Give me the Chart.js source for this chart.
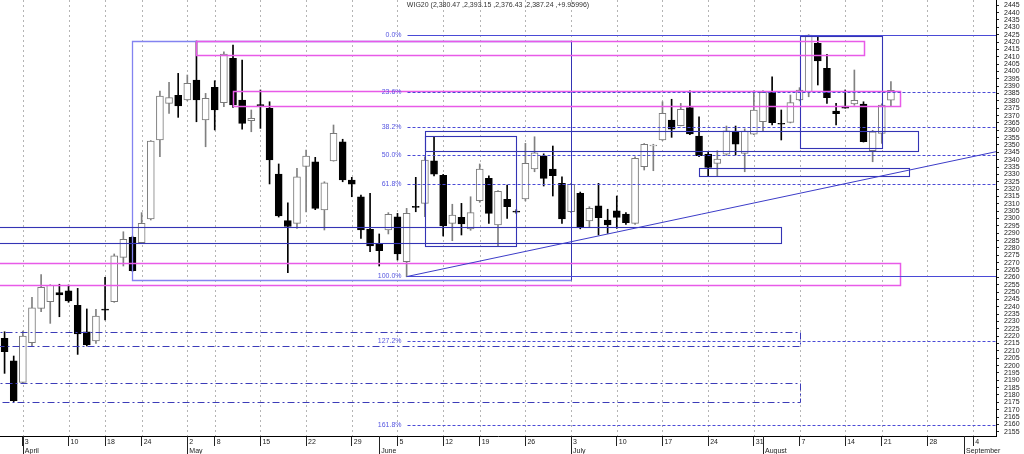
<!DOCTYPE html>
<html>
<head>
<meta charset="utf-8">
<title>WIG20</title>
<script src="https://cdn.jsdelivr.net/npm/chart.js@4.4.0/dist/chart.umd.min.js"></script>
<style>
  html, body { margin: 0; padding: 0; background: #ffffff; }
  #wrap { width: 1024px; height: 454px; }
</style>
</head>
<body>
<div id="wrap"><canvas id="wigChart" width="1024" height="454"></canvas></div>
<script>
// WIG20 daily candles, 30 Mar - 22 Aug 2006 (WSE sessions)
const firstDay = '2006-03-30';
const lastDay = '2006-09-06';
const closedDays = ['2006-04-14', '2006-04-17', '2006-05-01', '2006-05-03', '2006-06-15', '2006-08-15'];
const monthNames = ['January', 'February', 'March', 'April', 'May', 'June', 'July',
                    'August', 'September', 'October', 'November', 'December'];

const openVals = [
  2218.5, 2203.3, 2188.6, 2215.5, 2238.9, 2243.4, 2249.7, 2250.9, 2241.0, 2223.0,
  2216.7, 2238.4, 2243.4, 2273.6, 2287.2, 2283.5, 2299.7, 2353.4, 2378.3, 2383.8,
  2380.6, 2394.2, 2367.0, 2389.2, 2378.8, 2409.0, 2380.6, 2366.5, 2377.5, 2375.0,
  2330.3, 2298.6, 2296.7, 2335.4, 2338.6, 2305.8, 2339.1, 2352.2, 2326.2, 2314.8,
  2292.7, 2283.1, 2292.2, 2301.2, 2270.6, 2308.3, 2310.3, 2339.3, 2329.4, 2296.7,
  2300.8, 2292.9, 2312.1, 2327.3, 2295.6, 2313.1, 2305.0, 2313.3, 2333.7, 2342.7,
  2333.7, 2323.9, 2304.6, 2317.1, 2298.3, 2308.7, 2299.0, 2305.3, 2303.1, 2296.7,
  2335.2, 2349.3, 2353.4, 2367.0, 2363.1, 2375.4, 2356.1, 2343.9, 2337.5, 2343.7,
  2359.5, 2344.3, 2357.3, 2365.8, 2385.8, 2364.7, 2365.4, 2380.6, 2386.2, 2419.2,
  2402.1, 2373.1, 2376.5, 2377.9, 2377.9, 2346.1, 2357.9, 2380.47
];
const highVals = [
  2223.0, 2206.5, 2223.5, 2246.4, 2261.8, 2255.0, 2255.3, 2254.8, 2252.5, 2238.5,
  2238.3, 2260.0, 2275.9, 2291.0, 2288.0, 2304.0, 2353.0, 2386.7, 2392.6, 2398.7,
  2397.6, 2420.7, 2385.1, 2393.7, 2413.4, 2418.0, 2407.8, 2373.8, 2387.4, 2379.4,
  2337.1, 2310.7, 2334.1, 2346.6, 2341.6, 2325.0, 2363.6, 2353.9, 2328.0, 2316.0,
  2317.1, 2289.5, 2304.0, 2303.5, 2306.9, 2328.0, 2342.0, 2355.2, 2330.0, 2309.7,
  2310.3, 2314.8, 2337.1, 2329.0, 2319.0, 2322.8, 2306.0, 2351.1, 2355.6, 2344.0,
  2349.3, 2328.4, 2324.0, 2318.0, 2308.0, 2323.9, 2306.3, 2315.3, 2304.0, 2342.0,
  2351.0, 2350.5, 2379.4, 2381.1, 2378.3, 2386.9, 2369.2, 2345.0, 2346.1, 2362.9,
  2362.9, 2361.0, 2386.9, 2387.0, 2396.4, 2373.8, 2384.0, 2389.0, 2425.0, 2423.6,
  2411.7, 2378.3, 2387.4, 2401.0, 2379.4, 2360.0, 2378.0, 2393.15
];
const lowVals = [
  2194.7, 2175.5, 2188.0, 2213.3, 2236.6, 2228.7, 2233.2, 2243.0, 2207.6, 2213.3,
  2215.1, 2231.0, 2243.0, 2267.7, 2264.0, 2283.0, 2299.0, 2342.0, 2371.5, 2368.8,
  2380.0, 2365.8, 2348.8, 2360.2, 2376.0, 2375.6, 2360.7, 2359.0, 2361.3, 2323.5,
  2301.0, 2263.1, 2293.3, 2304.4, 2306.0, 2292.2, 2339.0, 2325.0, 2314.8, 2286.5,
  2277.4, 2267.7, 2289.5, 2271.8, 2260.4, 2304.6, 2301.2, 2329.0, 2288.1, 2284.9,
  2288.8, 2292.0, 2311.0, 2296.7, 2280.8, 2300.1, 2303.5, 2312.0, 2331.8, 2322.1,
  2315.3, 2296.7, 2304.0, 2293.0, 2294.4, 2288.8, 2289.9, 2293.3, 2296.0, 2296.0,
  2333.0, 2332.5, 2353.0, 2355.2, 2363.0, 2357.0, 2342.0, 2328.9, 2328.9, 2343.0,
  2343.2, 2331.8, 2357.0, 2359.0, 2363.6, 2353.4, 2365.0, 2380.0, 2382.8, 2390.8,
  2378.3, 2363.6, 2375.0, 2377.0, 2352.0, 2338.6, 2351.1, 2376.43
];
const closeVals = [
  2209.4, 2176.1, 2220.1, 2239.3, 2253.2, 2254.6, 2248.0, 2243.9, 2221.5, 2214.0,
  2233.7, 2237.6, 2274.7, 2285.9, 2264.5, 2296.7, 2352.7, 2383.3, 2382.2, 2376.5,
  2392.0, 2380.6, 2381.7, 2373.8, 2411.9, 2377.2, 2364.7, 2368.1, 2376.5, 2339.8,
  2301.7, 2294.6, 2328.4, 2342.5, 2306.9, 2324.3, 2357.9, 2326.2, 2323.3, 2292.2,
  2281.3, 2278.1, 2302.9, 2275.9, 2303.5, 2307.6, 2339.8, 2330.1, 2294.9, 2302.4,
  2296.3, 2304.0, 2333.7, 2303.5, 2318.5, 2308.0, 2304.3, 2337.5, 2344.7, 2327.3,
  2329.1, 2299.7, 2323.3, 2294.4, 2306.9, 2300.5, 2295.6, 2300.8, 2297.1, 2340.9,
  2350.5, 2350.0, 2371.5, 2360.7, 2374.3, 2357.5, 2342.7, 2334.8, 2340.5, 2359.7,
  2350.5, 2359.5, 2373.8, 2385.8, 2365.2, 2364.2, 2378.8, 2387.4, 2424.8, 2407.1,
  2382.2, 2371.3, 2375.1, 2380.4, 2352.2, 2359.0, 2377.2, 2387.24
];

// drawings on the chart, in [from date, to date, upper price, lower price]; null = beyond left edge
const fiboBox = ['2006-04-21', '2006-07-03', 2420.9, 2258.2];
const blueBoxes = [
  ['2006-06-08', '2006-06-23', 2356.0, 2281.3],
  ['2006-06-08', '2006-08-25', 2359.5, 2345.7],
  ['2006-08-07', '2006-08-21', 2424.3, 2347.8],
  ['2006-07-21', '2006-08-24', 2334.3, 2329.1],
  [null, '2006-08-03', 2294.4, 2283.1]
];
const pinkBoxes = [
  ['2006-05-04', '2006-08-17', 2420.9, 2411.2],
  ['2006-05-10', '2006-08-23', 2386.6, 2376.5],
  [null, '2006-08-23', 2269.6, 2254.8]
];
const dashBoxes = [
  [null, '2006-08-07', 2223.0, 2213.5],
  [null, '2006-08-07', 2187.9, 2175.0]
];
const fiboStart = '2006-06-06';
const fiboTop = 2425.0;
const fiboBottom = 2261.0;
const fiboLevels = [0, 23.6, 38.2, 50.0, 61.8, 100.0, 127.2, 161.8];
const trendFrom = ['2006-06-06', 2260.5];
const trendTo = ['2006-08-22', 2330.3];

const titleText = 'WIG20 (2,380.47 ,2,393.15 ,2,376.43 ,2,387.24 ,+9.95996)';
const yMin = 2152.1;
const yMax = 2448.6;

// session calendar for the x axis
function buildDays(start, end, skip) {
    const out = [];
    const d = new Date(start + 'T12:00:00Z');
    const stop = new Date(end + 'T12:00:00Z');
    while (d <= stop) {
        const iso = d.toISOString().slice(0, 10);
        const wd = d.getUTCDay();
        if (wd !== 0 && wd !== 6 && !skip.includes(iso)) out.push(iso);
        d.setUTCDate(d.getUTCDate() + 1);
    }
    return out;
}

const days = buildDays(firstDay, lastDay, closedDays);
const weekStart = days.map((d, i) => {
    if (i === 0) return false;
    const a = new Date(days[i - 1] + 'T12:00:00Z');
    const b = new Date(d + 'T12:00:00Z');
    return b.getUTCDay() < a.getUTCDay() || (b - a) >= 7 * 864e5;
});
const monthStart = days.map((d, i) => i > 0 && d.slice(5, 7) !== days[i - 1].slice(5, 7));
const tickLabels = days.map((d, i) => {
    const day = String(parseInt(d.slice(8, 10), 10));
    const month = monthNames[parseInt(d.slice(5, 7), 10) - 1];
    if (weekStart[i] && monthStart[i]) return [day, month];
    if (weekStart[i]) return day;
    if (monthStart[i]) return ['', month];
    return '';
});

const isUp = closeVals.map((c, i) => c >= openVals[i]);

const BLUE = '#3434b4';
const PINK = '#e85ae8';
const FIBO = '#4a4ad6';

// Custom drawings (grid, boxes, fibo, trend line) placed through the chart scales
const drawingsPlugin = {
    id: 'drawings',
    beforeDatasetsDraw(chart) {
        const {ctx, chartArea: area, scales: {x}} = chart;
        ctx.save();
        ctx.strokeStyle = '#b4b4b4';
        ctx.lineWidth = 1;
        ctx.setLineDash([2, 3]);
        weekStart.forEach((w, i) => {
            if (!w) return;
            const gx = Math.round(x.getPixelForValue(i)) + 0.5;
            ctx.beginPath();
            ctx.moveTo(gx, area.top);
            ctx.lineTo(gx, area.bottom);
            ctx.stroke();
        });
        ctx.restore();
    },
    afterDatasetsDraw(chart) {
        const {ctx, chartArea: area, scales: {x, y}} = chart;
        const px = d => d === null ? area.left - 10 : x.getPixelForValue(days.indexOf(d));
        const crisp = v => Math.round(v) + 0.5;

        const rect = (box, color, width, dash) => {
            const x1 = crisp(px(box[0])), x2 = crisp(px(box[1]));
            const y1 = crisp(y.getPixelForValue(box[2])), y2 = crisp(y.getPixelForValue(box[3]));
            ctx.strokeStyle = color;
            ctx.lineWidth = width;
            ctx.setLineDash(dash || []);
            ctx.strokeRect(x1, y1, x2 - x1, y2 - y1);
        };

        ctx.save();
        ctx.beginPath();
        ctx.rect(area.left, area.top, area.right - area.left, area.bottom - area.top);
        ctx.clip();

        // fibo retracement frame
        const fx1 = crisp(px(fiboBox[0])), fx2 = crisp(px(fiboBox[1]));
        const fy1 = crisp(y.getPixelForValue(fiboBox[2])), fy2 = crisp(y.getPixelForValue(fiboBox[3]));
        ctx.lineWidth = 1.3;
        ctx.strokeStyle = '#8383f0';
        ctx.beginPath();
        ctx.moveTo(fx2, fy1); ctx.lineTo(fx1, fy1); ctx.lineTo(fx1, fy2); ctx.lineTo(fx2, fy2);
        ctx.stroke();
        ctx.strokeStyle = BLUE;
        ctx.lineWidth = 1;
        ctx.beginPath();
        ctx.moveTo(fx2, fy1); ctx.lineTo(fx2, fy2);
        ctx.stroke();

        blueBoxes.forEach(b => rect(b, BLUE, 1.1));
        dashBoxes.forEach(b => rect(b, '#3c3cb8', 1, [7, 3, 2, 3]));
        pinkBoxes.forEach(b => rect(b, PINK, 1.5));

        // fibo levels
        const lx = crisp(px(fiboStart));
        ctx.font = '7px "Liberation Sans", Arial, sans-serif';
        ctx.textAlign = 'right';
        ctx.textBaseline = 'middle';
        fiboLevels.forEach(p => {
            const val = fiboTop - (fiboTop - fiboBottom) * p / 100;
            const ly = crisp(y.getPixelForValue(val));
            const solid = p === 0 || p === 100;
            ctx.strokeStyle = FIBO;
            ctx.lineWidth = 1;
            ctx.setLineDash(solid ? [] : [3, 2]);
            ctx.beginPath();
            ctx.moveTo(lx, ly);
            ctx.lineTo(area.right, ly);
            ctx.stroke();
            ctx.fillStyle = '#5656e0';
            ctx.fillText(p.toFixed(1) + '%', lx - 6, ly);
        });

        // rising trend line, extended to the right edge
        const tx1 = px(trendFrom[0]), ty1 = y.getPixelForValue(trendFrom[1]);
        const tx2 = px(trendTo[0]), ty2 = y.getPixelForValue(trendTo[1]);
        const slope = (ty2 - ty1) / (tx2 - tx1);
        ctx.setLineDash([]);
        ctx.strokeStyle = '#3c3cc8';
        ctx.lineWidth = 1;
        ctx.beginPath();
        ctx.moveTo(tx1, ty1);
        ctx.lineTo(area.right, ty1 + slope * (area.right - tx1));
        ctx.stroke();

        ctx.restore();
    },
    afterDraw(chart) {
        const {ctx, chartArea: area, scales: {x}} = chart;
        ctx.save();
        // longer tick marks for the first session of each month
        ctx.strokeStyle = '#222';
        ctx.lineWidth = 1;
        monthStart.forEach((m, i) => {
            if (!m) return;
            const mx = Math.round(x.getPixelForValue(i)) + 0.5;
            ctx.beginPath();
            ctx.moveTo(mx, area.bottom);
            ctx.lineTo(mx, chart.height);
            ctx.stroke();
        });
        ctx.fillStyle = '#333';
        ctx.font = '7px "Liberation Sans", Arial, sans-serif';
        ctx.textAlign = 'center';
        ctx.textBaseline = 'middle';
        ctx.fillText(titleText, (area.left + area.right) / 2, 5);
        ctx.restore();
    }
};

Chart.defaults.font.family = '"Liberation Sans", Arial, sans-serif';

const chart = new Chart(document.getElementById('wigChart'), {
    type: 'bar',
    data: {
        labels: days,
        datasets: [
            {
                label: 'wick',
                data: lowVals.map((l, i) => [l, highVals[i]]),
                backgroundColor: isUp.map(u => u ? '#808080' : '#000000'),
                barThickness: 1,
                grouped: false,
                order: 2
            },
            {
                label: 'body',
                data: openVals.map((o, i) => [Math.min(o, closeVals[i]), Math.max(o, closeVals[i])]),
                backgroundColor: isUp.map(u => u ? '#ffffff' : '#000000'),
                borderColor: isUp.map(u => u ? '#7a7a7a' : '#000000'),
                borderWidth: 1,
                borderSkipped: false,
                barThickness: 7,
                grouped: false,
                order: 1
            }
        ]
    },
    options: {
        responsive: false,
        animation: false,
        events: [],
        layout: { padding: 0 },
        plugins: {
            legend: { display: false },
            tooltip: { enabled: false }
        },
        scales: {
            x: {
                offset: true,
                grid: {
                    offset: false,
                    color: 'rgba(0,0,0,0)',
                    tickColor: c => weekStart[c.index] ? '#222222' : 'rgba(0,0,0,0)',
                    tickLength: 10,
                    tickBorderDash: [],
                    lineWidth: 1
                },
                border: { display: true, color: '#000000' },
                ticks: {
                    autoSkip: false,
                    maxRotation: 0,
                    align: 'start',
                    labelOffset: 2,
                    padding: -8,
                    color: '#222222',
                    font: { size: 7 },
                    callback: (v, i) => tickLabels[i]
                },
                afterFit: s => { s.height = 18; s.paddingLeft = 0; s.paddingRight = 0; }
            },
            y: {
                position: 'right',
                min: yMin,
                max: yMax,
                grid: { drawOnChartArea: false, tickLength: 3, color: '#222222' },
                border: { display: true, color: '#000000' },
                ticks: {
                    stepSize: 5,
                    autoSkip: false,
                    includeBounds: false,
                    padding: 5,
                    color: '#222222',
                    font: { size: 7 },
                    callback: v => String(v)
                },
                afterFit: s => { s.width = 28; s.paddingTop = 0; s.paddingBottom = 0; }
            }
        }
    },
    plugins: [drawingsPlugin]
});
</script>
</body>
</html>
